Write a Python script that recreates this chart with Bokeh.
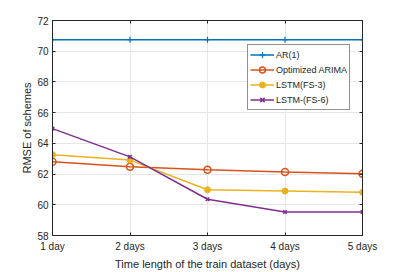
from bokeh.plotting import figure
from bokeh.models import LinearAxis, Range1d, FixedTicker, Legend, LegendItem
from bokeh.embed import file_html
from bokeh.resources import INLINE

days = [1, 2, 3, 4, 5]
day_labels = ["1 day", "2 days", "3 days", "4 days", "5 days"]
ar1 = [70.75, 70.75, 70.75, 70.75, 70.75]
arima = [62.81, 62.47, 62.28, 62.13, 62.02]
lstm_fs3 = [63.26, 62.91, 60.98, 60.89, 60.81]
lstm_fs6 = [64.96, 63.12, 60.36, 59.53, 59.53]
y_ticks = [58, 60, 62, 64, 66, 68, 70, 72]

FONT = "Liberation Sans"
TXT = "#262626"
AX = "#262626"

W, H = 399, 272
p = figure(width=W, height=H, output_backend="svg", toolbar_location=None,
           x_range=Range1d(1, 5), y_range=Range1d(58, 72),
           min_border_left=52, min_border_right=W - 362, min_border_top=20, min_border_bottom=H - 239)
p.outline_line_color = None

c_ar, c_arima, c_fs3, c_fs6 = "#0072BD", "#D95319", "#EDB120", "#7E2F8E"

r1 = p.line(days, ar1, color=c_ar, line_width=1.5)
m1 = p.scatter(days, ar1, marker="cross", size=6, color=c_ar, line_width=1.2)
r2 = p.line(days, arima, color=c_arima, line_width=1.5)
m2 = p.scatter(days, arima, marker="circle", size=7, line_color=c_arima, fill_color="white", fill_alpha=0, line_width=1.5)
r3 = p.line(days, lstm_fs3, color=c_fs3, line_width=1.5)
m3 = p.scatter(days, lstm_fs3, marker="circle", size=6, color=c_fs3)
r4 = p.line(days, lstm_fs6, color=c_fs6, line_width=1.5)
m4 = p.scatter(days, lstm_fs6, marker="x", size=5, color=c_fs6, line_width=1.5)

for ax in p.xaxis:
    ax.ticker = FixedTicker(ticks=days)
    ax.major_label_overrides = {d: l for d, l in zip(days, day_labels)}
    ax.axis_label = "Time length of the train dataset (days)"
    ax.major_label_standoff = 5
    ax.axis_label_standoff = 3
for ax in p.yaxis:
    ax.ticker = FixedTicker(ticks=y_ticks)
    ax.axis_label = "RMSE of schemes"
    ax.major_label_standoff = 4
    ax.axis_label_standoff = 1

for ax in list(p.xaxis) + list(p.yaxis):
    ax.axis_line_color = AX
    ax.major_tick_line_color = AX
    ax.major_tick_in = 3
    ax.major_tick_out = 0
    ax.minor_tick_line_color = None
    ax.major_label_text_font = FONT
    ax.major_label_text_font_size = "10px"
    ax.major_label_text_color = TXT
    ax.axis_label_text_font = FONT
    ax.axis_label_text_font_size = "11px"
    ax.axis_label_text_font_style = "normal"
    ax.axis_label_text_color = TXT

top = LinearAxis(ticker=FixedTicker(ticks=days), major_label_text_color=None,
                 major_tick_in=3, major_tick_out=0, minor_tick_line_color=None,
                 axis_line_color=AX, major_tick_line_color=AX, major_label_standoff=0)
right = LinearAxis(ticker=FixedTicker(ticks=y_ticks), major_label_text_color=None,
                   major_tick_in=3, major_tick_out=0, minor_tick_line_color=None,
                   axis_line_color=AX, major_tick_line_color=AX, major_label_standoff=0)
p.add_layout(top, "above")
p.add_layout(right, "right")

p.xgrid.ticker = FixedTicker(ticks=days)
p.ygrid.ticker = FixedTicker(ticks=y_ticks)
p.grid.grid_line_color = "#e6e6e6"
p.grid.grid_line_width = 1

legend = Legend(items=[
    LegendItem(label="AR(1)", renderers=[r1, m1]),
    LegendItem(label="Optimized ARIMA", renderers=[r2, m2]),
    LegendItem(label="LSTM(FS-3)", renderers=[r3, m3]),
    LegendItem(label="LSTM-(FS-6)", renderers=[r4, m4]),
], location=(195, 125))
legend.label_text_font = FONT
legend.label_text_font_size = "9px"
legend.label_text_color = TXT
legend.glyph_width = 24
legend.glyph_height = 15
legend.label_height = 15
legend.label_standoff = 2
legend.spacing = 0
legend.padding = 2
legend.margin = 0
legend.border_line_color = "#262626"
legend.border_line_width = 1
legend.background_fill_color = "white"
legend.background_fill_alpha = 1
p.add_layout(legend, "center")

open("out.html", "w").write(file_html(p, INLINE))
